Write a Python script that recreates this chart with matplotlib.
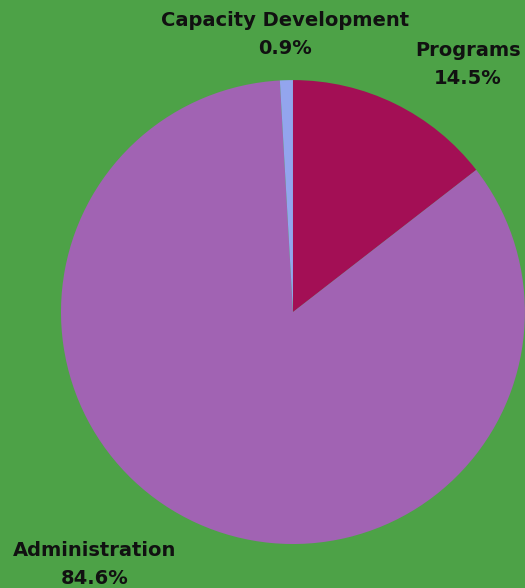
import matplotlib.pyplot as plt

labels = ['Programs', 'Administration', 'Capacity Development']
shares = [14.5, 84.6, 0.9]
colors = ['#A30F55', '#A163B3', '#93A5EE']
bg = '#4DA247'

fig = plt.figure(figsize=(5.25, 5.88), dpi=100, facecolor=bg)
ax = fig.add_axes([0.116, 0.0748, 0.884, 0.789])
ax.set_facecolor(bg)
ax.pie(shares, colors=colors, startangle=90, counterclock=False,
       wedgeprops=dict(linewidth=0))
ax.set_xlim(-1, 1)
ax.set_ylim(-1, 1)
ax.set_aspect('equal')

# label spots in pixels from the top-left corner
spots = {'Programs': (468, 50), 'Administration': (95, 550),
         'Capacity Development': (285, 20)}
W, H = 525, 588
for name, val in zip(labels, shares):
    x, y = spots[name]
    fig.text(x / W, 1 - y / H, name, ha='center', va='center',
             fontsize=14, fontweight='bold', color='#111111')
    fig.text(x / W, 1 - (y + 29) / H, f'{val}%', ha='center', va='center',
             fontsize=14, fontweight='bold', color='#111111')

fig.savefig('out.png', dpi=100, facecolor=bg)
